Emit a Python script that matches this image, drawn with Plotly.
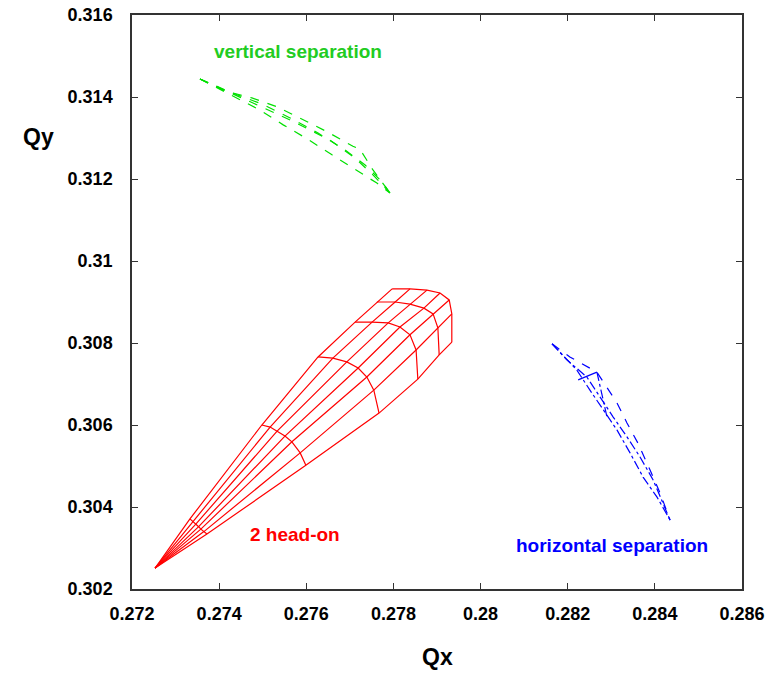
import plotly.graph_objects as go

# ---- head-on footprint: amplitude rings (rows) x phase angles (columns) ----
ho_qx = [
    [0.27253] * 7,
    [0.27333, 0.27340, 0.27347, 0.27353, 0.27358, 0.27365, 0.27372],
    [0.27498, 0.27517, 0.27533, 0.27551, 0.27567, 0.27586, 0.27599],
    [0.27627, 0.27661, 0.27693, 0.27719, 0.27739, 0.27755, 0.27767],
    [0.27712, 0.27751, 0.27788, 0.27815, 0.27838, 0.27852, 0.27856],
    [0.27762, 0.27804, 0.27838, 0.27870, 0.27891, 0.27902, 0.27905],
    [0.27797, 0.27838, 0.27877, 0.27907, 0.27928, 0.27934, 0.27934],
]
ho_qy = [
    [0.30251] * 7,
    [0.30371, 0.30365, 0.30359, 0.30352, 0.30346, 0.30340, 0.30334],
    [0.30600, 0.30595, 0.30585, 0.30573, 0.30559, 0.30532, 0.30502],
    [0.30766, 0.30763, 0.30754, 0.30739, 0.30717, 0.30685, 0.30629],
    [0.30851, 0.30851, 0.30849, 0.30839, 0.30820, 0.30783, 0.30712],
    [0.30900, 0.30900, 0.30895, 0.30885, 0.30871, 0.30837, 0.30771],
    [0.30932, 0.30932, 0.30929, 0.30922, 0.30905, 0.30871, 0.30802],
]

# ---- vertical separation footprint (dashed green) ----
vs_lines_qx = [
    [0.27356, 0.27413, 0.27475, 0.27533, 0.27581, 0.27648, 0.27707, 0.27723, 0.27753, 0.27792],
    [0.27356, 0.27425, 0.27498, 0.27563, 0.27627, 0.27689, 0.27735, 0.27774, 0.27792],
    [0.27356, 0.27459, 0.27563, 0.27654, 0.27712, 0.27753, 0.27792],
    [0.27356, 0.27397, 0.27436, 0.27494, 0.27547, 0.27602, 0.27659, 0.27707, 0.27762, 0.27792],
]
vs_lines_qy = [
    [0.31444, 0.31415, 0.31398, 0.31376, 0.31351, 0.31315, 0.31280, 0.31273, 0.31222, 0.31166],
    [0.31444, 0.31412, 0.31383, 0.31349, 0.31312, 0.31271, 0.31234, 0.31193, 0.31166],
    [0.31444, 0.31395, 0.31344, 0.31295, 0.31251, 0.31210, 0.31166],
    [0.31444, 0.31422, 0.31400, 0.31368, 0.31332, 0.31298, 0.31259, 0.31227, 0.31190, 0.31166],
]

# ---- horizontal separation footprint (blue) ----
hs_lines_qx = [
    [0.28164, 0.28205, 0.28267, 0.28290, 0.28313, 0.28336, 0.28361, 0.28389, 0.28412, 0.28435],
    [0.28164, 0.28198, 0.28244, 0.28274, 0.28304, 0.28336, 0.28366, 0.28396, 0.28435],
    [0.28164, 0.28189, 0.28221, 0.28251, 0.28281, 0.28313, 0.28343, 0.28373, 0.28405, 0.28435],
    [0.28224, 0.28267],
    [0.28267, 0.28290],
]
hs_lines_qy = [
    [0.30798, 0.30766, 0.30729, 0.30690, 0.30654, 0.30605, 0.30556, 0.30490, 0.30434, 0.30368],
    [0.30798, 0.30759, 0.30717, 0.30668, 0.30620, 0.30571, 0.30522, 0.30466, 0.30368],
    [0.30798, 0.30771, 0.30734, 0.30685, 0.30637, 0.30588, 0.30532, 0.30473, 0.30424, 0.30368],
    [0.30710, 0.30729],
    [0.30729, 0.30620],
]
hs_dash = ["dash", "dashdot", "dashdot", "solid", "dashdot"]

x_ticks = [0.272, 0.274, 0.276, 0.278, 0.28, 0.282, 0.284, 0.286]
y_ticks = [0.302, 0.304, 0.306, 0.308, 0.31, 0.312, 0.314, 0.316]

FONT = "Liberation Sans, Arial, sans-serif"
RED, GREEN, BLUE = "#ff0000", "#00e000", "#0000ff"

fig = go.Figure()

# head-on mesh: rings then radial lines, each joined into one trace with gaps
xs, ys = [], []
for rx, ry in zip(ho_qx, ho_qy):
    xs += rx + [None]
    ys += ry + [None]
for j in range(len(ho_qx[0])):
    xs += [row[j] for row in ho_qx] + [None]
    ys += [row[j] for row in ho_qy] + [None]
fig.add_trace(go.Scatter(x=xs, y=ys, mode="lines",
                         line=dict(color=RED, width=1.2), hoverinfo="skip"))

for lx, ly in zip(vs_lines_qx, vs_lines_qy):
    fig.add_trace(go.Scatter(x=lx, y=ly, mode="lines",
                             line=dict(color=GREEN, width=1.2, dash="dash"),
                             hoverinfo="skip"))

for lx, ly, d in zip(hs_lines_qx, hs_lines_qy, hs_dash):
    fig.add_trace(go.Scatter(x=lx, y=ly, mode="lines",
                             line=dict(color=BLUE, width=1.2, dash=d),
                             hoverinfo="skip"))

labels = [
    ("vertical separation", 0.27581, 0.31510, "#22cc22"),
    ("2 head-on", 0.27574, 0.30332, RED),
    ("horizontal separation", 0.28302, 0.30305, BLUE),
]
for txt, x, y, c in labels:
    fig.add_annotation(x=x, y=y, text=f"<b>{txt}</b>", showarrow=False,
                       xanchor="center", yanchor="middle",
                       font=dict(family=FONT, size=19, color=c))

fig.add_annotation(xref="paper", yref="paper", x=-0.154, y=0.7875,
                   text="<b>Qy</b>", showarrow=False,
                   xanchor="center", yanchor="middle",
                   font=dict(family=FONT, size=23, color="black"))
fig.add_annotation(xref="paper", yref="paper", x=0.5, y=-0.1185,
                   text="<b>Qx</b>", showarrow=False,
                   xanchor="center", yanchor="middle",
                   font=dict(family=FONT, size=23, color="black"))

axis_common = dict(showgrid=False, zeroline=False, showline=True, automargin=False,
                   linecolor="#333333", linewidth=1.5, mirror="ticks",
                   ticks="inside", ticklen=6, tickcolor="#333333",
                   tickfont=dict(family=FONT, size=18, color="black", weight="bold"))

fig.update_xaxes(range=[0.272, 0.286], tickvals=x_ticks,
                 ticktext=[f"{v:g}" for v in x_ticks], ticklabelstandoff=8,
                 **axis_common)
fig.update_yaxes(range=[0.302, 0.316], tickvals=y_ticks,
                 ticktext=[f"{v:g}" for v in y_ticks], ticklabelstandoff=14,
                 **axis_common)

fig.update_layout(width=782, height=685, showlegend=False,
                  margin=dict(l=132, r=40, t=15, b=96),
                  plot_bgcolor="white", paper_bgcolor="white")

fig.write_html("out.html")
